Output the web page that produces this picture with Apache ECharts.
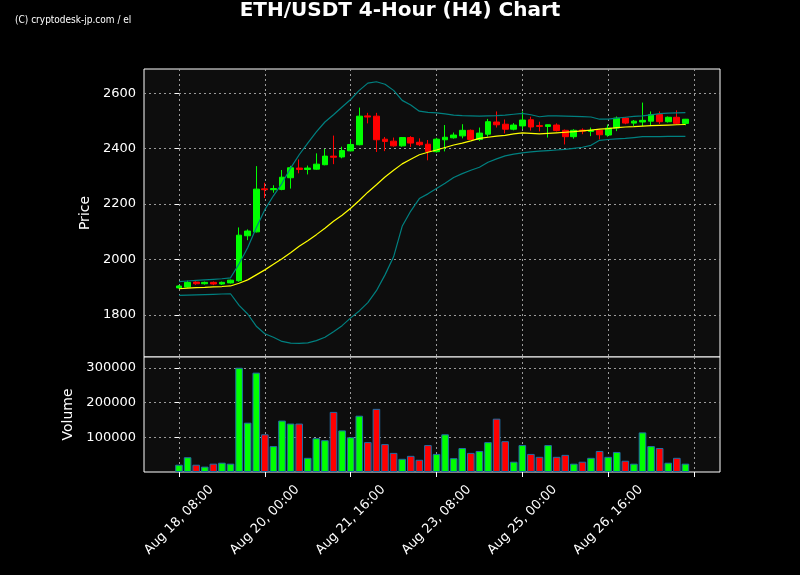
<!DOCTYPE html>
<html>
<head>
<meta charset="utf-8">
<script src="https://cdn.jsdelivr.net/npm/echarts@6/dist/echarts.min.js"></script>
<style>
html,body{margin:0;padding:0;background:#000;}
#chart{width:800px;height:575px;}
</style>
</head>
<body>
<div id="chart"></div>
<script>
// ---- data (4-hour candles, index 0 = Aug 18 08:00) ----
var openP  = [1898,1901,1919,1913,1918,1912,1916,1924,2086,2100,2255,2252,2253,2295,2330,2325,2326,2342,2373,2370,2392,2414,2518,2517,2434,2427,2410,2440,2423,2416,2389,2432,2439,2446,2466,2433,2452,2496,2488,2470,2482,2504,2483,2480,2485,2466,2443,2467,2462,2466,2449,2474,2510,2492,2496,2499,2523,2497,2513,2491];
var highP  = [1908,1924,1922,1921,1921,1921,1928,2116,2109,2337,2277,2268,2323,2338,2361,2339,2383,2399,2447,2407,2434,2548,2529,2529,2442,2440,2442,2445,2437,2431,2439,2485,2458,2488,2469,2476,2507,2534,2505,2492,2534,2515,2497,2487,2491,2469,2470,2473,2476,2470,2487,2516,2513,2503,2566,2534,2534,2516,2538,2507];
var lowP   = [1896,1898,1909,1910,1908,1909,1914,1920,2070,2098,2222,2241,2250,2256,2311,2307,2324,2340,2344,2365,2390,2412,2491,2388,2391,2407,2407,2406,2409,2358,2386,2390,2436,2437,2431,2428,2443,2476,2455,2466,2470,2465,2462,2440,2462,2415,2436,2452,2445,2433,2443,2463,2488,2482,2481,2484,2489,2494,2487,2484];
var closeP = [1905,1918,1913,1918,1912,1918,1926,2088,2103,2254,2252,2256,2297,2331,2325,2330,2344,2373,2369,2393,2415,2517,2514,2432,2426,2410,2440,2420,2414,2390,2434,2441,2449,2466,2433,2456,2497,2486,2470,2485,2503,2478,2480,2486,2465,2443,2466,2463,2466,2450,2474,2510,2492,2499,2502,2523,2497,2513,2491,2506];
var volume = [21000,42500,21000,15500,24000,26800,24000,300000,142000,286000,108500,74600,148000,139400,139400,40800,97200,91500,173000,119700,100000,162000,86000,181700,80300,55000,38000,46500,35200,77500,52000,108500,39800,69000,55000,60600,86000,153500,88700,29600,77500,52000,43700,77500,43700,49300,24000,29600,40800,60600,43700,57700,32400,24000,114000,74600,69000,26800,40800,24000];
// moving average (yellow) and bands (teal)
var midLine   = [1895,1897,1899,1900,1902,1903,1905,1915,1927,1945,1963,1983,2003,2025,2048,2068,2090,2113,2138,2160,2185,2213,2243,2270,2298,2322,2345,2362,2378,2387,2395,2404,2413,2420,2428,2437,2441,2445,2448,2453,2457,2455,2453,2455,2457,2459,2461,2464,2467,2470,2472,2476,2478,2479,2481,2483,2484,2485,2486,2487];
var upperBand = [1921,1923,1925,1927,1929,1931,1934,1985,2043,2115,2180,2230,2275,2330,2378,2420,2460,2496,2522,2550,2577,2610,2636,2641,2632,2610,2574,2557,2535,2531,2529,2525,2521,2519,2518,2517,2518,2519,2521,2524,2527,2522,2515,2518,2518,2517,2516,2515,2514,2506,2506,2510,2513,2516,2518,2522,2526,2528,2529,2530];
var lowerBand = [1871,1872,1873,1874,1875,1876,1877,1835,1804,1760,1733,1720,1705,1699,1698,1700,1708,1720,1740,1762,1790,1815,1845,1888,1945,2010,2120,2175,2220,2237,2256,2275,2296,2310,2322,2333,2351,2363,2374,2380,2385,2388,2391,2393,2395,2397,2401,2405,2412,2430,2433,2435,2437,2440,2443,2443,2443,2444,2444,2444];
// axis ticks
var xTickIdx    = [0,10,20,30,40,50,60];
var xTickLabels = ['Aug 18, 08:00','Aug 20, 00:00','Aug 21, 16:00','Aug 23, 08:00','Aug 25, 00:00','Aug 26, 16:00',''];
var priceTicks  = [1800,2000,2200,2400,2600];
var volTicks    = [100000,200000,300000];

var UP = '#00ff00', DOWN = '#ff0000';
var candleData = [], volData = [], midData = [], upData = [], loData = [];
for (var i = 0; i < openP.length; i++) {
  candleData.push([i, openP[i], closeP[i], lowP[i], highP[i]]);
  volData.push({value: [i, volume[i]], itemStyle: {color: closeP[i] >= openP[i] ? UP : DOWN}});
  midData.push([i, midLine[i]]);
  upData.push([i, upperBand[i]]);
  loData.push([i, lowerBand[i]]);
}

var FONT = 'DejaVu Sans';
var gridLine = {show: true, lineStyle: {color: '#9a9a9a', width: 1, type: [2, 3]}};
var XMIN = -4.08, XMAX = 63.03;
var plain = function (v) { return String(Math.round(v)); };

var chart = echarts.init(document.getElementById('chart'), null, {renderer: 'canvas'});
chart.setOption({
  backgroundColor: '#000000',
  animation: false,
  title: [
    {text: 'ETH/USDT 4-Hour (H4) Chart', left: 'center', top: 1, padding: 0,
     textStyle: {color: '#ffffff', fontFamily: FONT, fontWeight: 'bold', fontSize: 20}},
    {text: '(C) cryptodesk-jp.com / el', left: 15, top: 15, padding: 0,
     textStyle: {color: '#ffffff', fontFamily: 'Liberation Sans Narrow, DejaVu Sans Condensed, sans-serif', fontWeight: 'normal', fontSize: 10}}
  ],
  grid: [
    {left: 144, right: 80, top: 69, height: 288, show: true, backgroundColor: '#0d0d0d', borderColor: '#ffffff', borderWidth: 1},
    {left: 144, right: 80, top: 357, height: 115, show: true, backgroundColor: '#0d0d0d', borderColor: '#ffffff', borderWidth: 1}
  ],
  xAxis: [
    {type: 'value', gridIndex: 0, min: XMIN, max: XMAX,
     axisLine: {show: false}, axisLabel: {show: false},
     axisTick: {show: false, customValues: xTickIdx},
     splitLine: gridLine},
    {type: 'value', gridIndex: 1, min: XMIN, max: XMAX,
     axisLine: {show: false},
     axisTick: {show: true, length: 5, lineStyle: {color: '#ffffff'}, customValues: xTickIdx},
     axisLabel: {show: true, rotate: 45, margin: 48, align: 'center', verticalAlign: 'middle',
       color: '#ffffff', fontFamily: FONT, fontSize: 13,
       customValues: xTickIdx,
       formatter: function (v) { var k = xTickIdx.indexOf(Math.round(v)); return k >= 0 ? xTickLabels[k] : ''; }},
     splitLine: gridLine}
  ],
  yAxis: [
    {type: 'value', gridIndex: 0, min: 1649, max: 2687, scale: true,
     name: 'Price', nameLocation: 'middle', nameGap: 43,
     nameTextStyle: {color: '#ffffff', fontFamily: FONT, fontSize: 14},
     axisLine: {show: false},
     axisTick: {show: true, length: 4, lineStyle: {color: '#ffffff'}, customValues: priceTicks},
     axisLabel: {color: '#ffffff', fontFamily: FONT, fontSize: 13, margin: 8, customValues: priceTicks, formatter: plain},
     splitLine: gridLine},
    {type: 'value', gridIndex: 1, min: 0, max: 331000,
     name: 'Volume', nameLocation: 'middle', nameGap: 64,
     nameTextStyle: {color: '#ffffff', fontFamily: FONT, fontSize: 14},
     axisLine: {show: false},
     axisTick: {show: true, length: 4, lineStyle: {color: '#ffffff'}, customValues: volTicks},
     axisLabel: {color: '#ffffff', fontFamily: FONT, fontSize: 13, margin: 8, customValues: volTicks, formatter: plain},
     splitLine: gridLine}
  ],
  series: [
    {type: 'candlestick', xAxisIndex: 0, yAxisIndex: 0, data: candleData, barWidth: 6.2,
     encode: {x: 0, y: [1, 2, 3, 4]},
     itemStyle: {color: UP, color0: DOWN, borderColor: UP, borderColor0: DOWN, borderWidth: 1}},
    {type: 'line', xAxisIndex: 0, yAxisIndex: 0, data: midData, symbol: 'none',
     lineStyle: {color: '#ffff00', width: 1.2}, z: 3},
    {type: 'line', xAxisIndex: 0, yAxisIndex: 0, data: upData, symbol: 'none',
     lineStyle: {color: '#008080', width: 1.2}, z: 3},
    {type: 'line', xAxisIndex: 0, yAxisIndex: 0, data: loData, symbol: 'none',
     lineStyle: {color: '#008080', width: 1.2}, z: 3},
    {type: 'bar', xAxisIndex: 1, yAxisIndex: 1, data: volData, barWidth: 7.6,
     itemStyle: {borderColor: '#1f6fa8', borderWidth: 1}}
  ]
});
</script>
</body>
</html>
